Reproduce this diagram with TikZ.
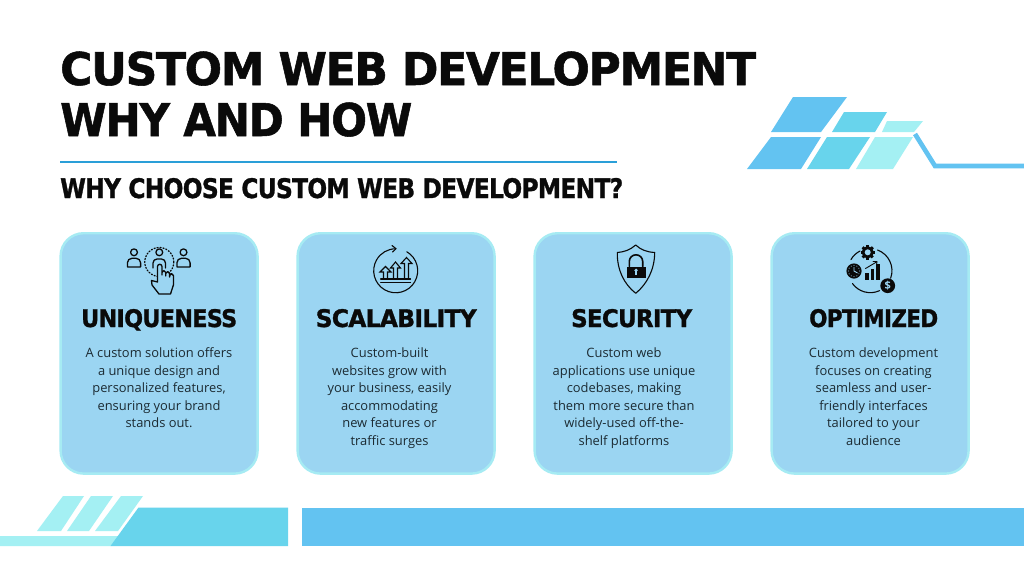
\documentclass[tikz,border=0pt]{standalone}
\usepackage{fontspec}
\usepackage{graphicx}
\setmainfont{Open Sans}
\newfontfamily\headfont[FakeBold=1.2,LetterSpace=-3]{DejaVu Sans Bold}
\usetikzlibrary{arrows.meta}
\definecolor{ink}{HTML}{0A0A0A}
\definecolor{bodyink}{HTML}{1C2B33}
\definecolor{cardfill}{HTML}{9BD5F2}
\definecolor{cardedge}{HTML}{A6EBF3}
\definecolor{skyb}{HTML}{63C3F1}
\definecolor{midb}{HTML}{68D4EC}
\definecolor{palec}{HTML}{A4F0F3}
\definecolor{rulec}{HTML}{2A9FD8}
\tikzset{
  card/.style={draw=cardedge,line width=2.4pt,fill=cardfill,rounded corners=23pt},
  head/.style={anchor=base west,inner sep=0pt,text=ink,font=\headfont},
  bodytext/.style={anchor=north,inner sep=0pt,text=bodyink,align=center,
    font=\fontsize{12.9}{17.6}\selectfont},
  icon/.style={draw=ink,line width=1.3pt,line cap=round,line join=round},
  iconfill/.style={fill=ink,draw=none}
}
\newcommand{\fitted}[3]{\resizebox{#1pt}{#2pt}{#3}}
\newcommand{\personicon}[2]{%
  \draw[icon] (#1,#2) circle (3.4);
  \draw[icon] (#1-6.6,#2+14.6) -- (#1-6.6,#2+10.5) arc (180:270:4.5) -- (#1+2.1,#2+6) arc (270:360:4.5) -- (#1+6.6,#2+14.6) -- cycle;}
\begin{document}
\begin{tikzpicture}[x=1pt,y=-1pt]
\useasboundingbox (0,0) rectangle (1024,576);
\fill[white] (0,0) rectangle (1024,576);
% titles
\node[head] (title1) at (60,85) {\fitted{696}{33.5}{CUSTOM WEB DEVELOPMENT}};
\node[head] (title2) at (60,136) {\fitted{352}{33.5}{WHY AND HOW}};
\draw[rulec,line width=2pt] (60,162) -- (617,162);
\node[head] (subtitle) at (60,198) {\fitted{563}{20}{WHY CHOOSE CUSTOM WEB DEVELOPMENT?}};
% top-right logo
\fill[skyb] (793,97) -- (847,97) -- (821,132) -- (771,132) -- cycle;
\fill[midb] (844,112) -- (887,112) -- (875,132) -- (832,132) -- cycle;
\fill[palec] (887,121) -- (923,121) -- (914,132) -- (882,132) -- cycle;
\fill[skyb] (771,137) -- (821,137) -- (801,169) -- (747,169) -- cycle;
\fill[midb] (827,137) -- (870,137) -- (849,169) -- (807,169) -- cycle;
\fill[palec] (875,137) -- (913,137) -- (893,169) -- (856,169) -- cycle;
\draw[skyb,line width=4.6pt,line join=miter] (915,134) -- (935,166) -- (1024,166);
% cards
\draw[card] (60.6,233.2) rectangle (257.6,473.6);
\draw[card] (297.6,233.2) rectangle (494.6,473.6);
\draw[card] (534.6,233.2) rectangle (731.6,473.6);
\draw[card] (771.6,233.2) rectangle (968.6,473.6);
% card headings
\node[head] (h1) at (81,327) {\fitted{156}{18}{UNIQUENESS}};
\node[head] (h2) at (315.5,327) {\fitted{161}{18}{SCALABILITY}};
\node[head] (h3) at (571,327) {\fitted{121}{18}{SECURITY}};
\node[head] (h4) at (809,327) {\fitted{129}{18}{OPTIMIZED}};
% card bodies
\node[bodytext] (b1) at (159,347.5) {A custom solution offers\\a unique design and\\personalized features,\\ensuring your brand\\stands out.};
\node[bodytext] (b2) at (389.5,347.5) {Custom-built\\websites grow with\\your business, easily\\accommodating\\new features or\\traffic surges};
\node[bodytext] (b3) at (624,347.5) {Custom web\\applications use unique\\codebases, making\\them more secure than\\widely-used off-the-\\shelf platforms};
\node[bodytext] (b4) at (873.5,347.5) {Custom development\\focuses on creating\\seamless and user-\\friendly interfaces\\tailored to your\\audience};
% icon 1: people and hand
\personicon{134}{252.3}
\personicon{183.5}{252.3}
\draw[icon] (159.3,252.3) circle (3.4);
\draw[icon] (153,268) -- (153,263) arc (180:270:4) -- (161.5,259) arc (270:360:4) -- (165.5,268);
\draw[ink,line width=1.3pt,dash pattern=on 1pt off 2pt,line cap=round] (159.3,262) circle (14.5);
\draw[icon,fill=cardfill] (157.5,282) -- (157.5,266.5) arc (180:360:2.25) -- (162,275)
  -- (162,272.5) arc (180:360:1.9) -- (165.8,276) -- (165.8,273.5) arc (180:360:1.9) -- (169.6,277)
  -- (169.6,275.5) arc (180:360:1.9) -- (173.4,285) -- (170.5,294) -- (159,294) -- (152,285) -- (151.5,280.5) -- cycle;
% icon 2: growth
\draw[icon,line width=1.1pt] (406.7,251.7) arc (-60:270:22);
\draw[icon,line width=1.1pt] (392,245.5) -- (396,248.7) -- (392.5,252);
\draw[icon,line join=miter] (380.7,282.3) -- (410.5,282.3);
\draw[icon,line join=miter] (380.7,279) -- (410.5,279);
\draw[icon,line width=1.1pt,line join=miter] (383.5,279) -- (383.5,272) -- (380,272) -- (385.5,266.5) -- (391,272) -- (387.5,272) -- (387.5,279);
\draw[icon,line width=1.1pt,line join=miter] (393.5,279) -- (393.5,268) -- (390.5,268) -- (395.5,262) -- (400.5,268) -- (397.5,268) -- (397.5,279);
\draw[icon,line width=1.1pt,line join=miter] (404.5,279) -- (404.5,263.5) -- (401,263.5) -- (406.5,257.5) -- (412,263.5) -- (408.5,263.5) -- (408.5,279);
% icon 3: shield and lock
\draw[icon,line width=1.1pt] (635.7,245) .. controls (630,250) and (624,252) .. (617.3,252.5)
  .. controls (617,270) and (624,284) .. (635.7,293.3)
  .. controls (647,284) and (654.5,270) .. (654.7,252.5)
  .. controls (647,252) and (641,250) .. (635.7,245) -- cycle;
\draw[icon,line width=1.6pt] (629.3,266.5) -- (629.3,261.5) arc (180:360:6.7) -- (642.7,266.5);
\fill[ink] (626.7,266.5) rectangle (645.7,277.5);
\fill[cardfill] (636,270.3) circle (1.8);
\fill[cardfill] (635.2,271) rectangle (636.8,274.6);
% icon 4: optimisation
\draw[icon,line width=1.1pt] (860,251) arc (-117:-150:22);
\draw[icon,line width=1.1pt] (877.5,250) arc (-70:20:22);
\draw[icon,line width=1.1pt] (852.5,283.6) arc (144:65:22);
\fill[ink] (867.7,252.3) circle (5.8);
\foreach \a in {0,45,...,315}{\fill[ink,shift={(867.7,252.3)},rotate=\a] (7.2,-1.4) rectangle (4,1.4);}
\fill[cardfill] (867.7,252.3) circle (3);
\fill[ink] (854,271) circle (7.6);
\foreach \a in {0,30,...,330}{\fill[cardfill] (854,271) ++(\a:5.6) circle (.55);}
\draw[cardfill,line width=.9pt] (854,267) -- (854,271) -- (857.5,273);
\fill[ink] (887.7,285.7) circle (7.4);
\node[inner sep=0pt,text=cardfill,font=\fontsize{11}{11}\selectfont\bfseries] (dollar) at (887.7,285.7) {\$};
\fill[ink] (865.2,272.5) rectangle (868.5,279.5);
\fill[ink] (870.7,268.5) rectangle (874,279.5);
\fill[ink] (876.2,264) rectangle (879.5,279.5);
\draw[icon,line width=.9pt] (865.5,268.5) -- (876.5,262);
\draw[icon,line width=.9pt] (873,261.5) -- (877,261.5) -- (876.5,265);
% bottom bars
\fill[palec] (0,536) -- (119,536) -- (111,546) -- (0,546) -- cycle;
\fill[midb] (110.5,546) -- (138.5,507.5) -- (288,507.5) -- (288,546) -- cycle;
\fill[skyb] (302,507.5) rectangle (1024,546);
\fill[palec] (63,496) -- (84,496) -- (61,531) -- (37,531) -- cycle;
\fill[palec] (91,496) -- (113,496) -- (89,531) -- (67,531) -- cycle;
\fill[palec] (121,496) -- (143,496) -- (118,531) -- (95,531) -- cycle;
\end{tikzpicture}
\end{document}
